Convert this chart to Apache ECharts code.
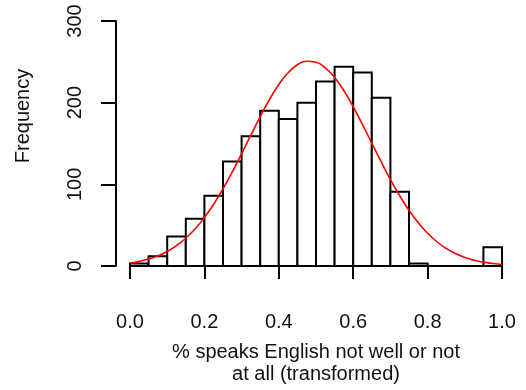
<!DOCTYPE html>
<html>
<head>
<meta charset="utf-8">
<script src="https://cdn.jsdelivr.net/npm/echarts@6/dist/echarts.min.js"></script>
<style>
html,body{margin:0;padding:0;background:#fff;}
#chart{width:526px;height:390px;}
</style>
</head>
<body>
<div id="chart"></div>
<script>
// Histogram bins (edges) and counts
const binEdges = [0.00,0.05,0.10,0.15,0.20,0.25,0.30,0.35,0.40,0.45,0.50,0.55,0.60,0.65,0.70,0.75,0.80,0.85,0.90,0.95,1.00];
const counts   = [3,12,36,58,86,128,159,190,180,200,226,244,237,206,91,3,0,0,0,23];
// Fitted normal curve
const curveX = [0,0.025,0.05,0.075,0.1,0.125,0.15,0.175,0.2,0.225,0.25,0.275,0.3,0.325,0.35,0.375,0.4,0.425,0.45,0.475,0.5,0.525,0.55,0.575,0.6,0.625,0.65,0.675,0.7,0.725,0.75,0.775,0.8,0.825,0.85,0.875,0.9,0.925,0.95,0.975,1.0];
const curveY = [3.7,5.7,8.5,12.4,17.8,24.9,34.0,45.4,59.3,75.8,94.5,115.4,137.6,160.5,183.0,203.9,222.2,236.6,246.4,250.8,249.5,242.7,230.8,214.6,195.0,173.2,150.4,127.7,105.9,86.0,68.2,52.9,40.1,29.7,21.5,15.2,10.5,7.1,4.7,3.1,1.9];
// Axis ticks
const xTicks = [0.0,0.2,0.4,0.6,0.8,1.0];
const yTicks = [0,100,200,300];
const xTitle = '% speaks English not well or not\nat all (transformed)';
const yTitle = 'Frequency';

const barData = counts.map((c,i)=>[binEdges[i], binEdges[i+1], c]);
const lineData = curveX.map((x,i)=>[x, curveY[i]]);

const FONT = '"Liberation Sans", Arial, Helvetica, sans-serif';
const chart = echarts.init(document.getElementById('chart'), null, {renderer:'canvas'});
chart.setOption({
  animation:false,
  backgroundColor:'#fff',
  grid:[
    {left:130, right:24, top:21, bottom:124, containLabel:false},
    {left:116, width:14, top:21, bottom:124, containLabel:false}
  ],
  xAxis:[{
    gridIndex:0, type:'value', min:0, max:1, interval:0.2, offset:12,
    axisLine:{show:true, lineStyle:{color:'#000', width:2}},
    axisTick:{show:true, length:13, inside:false, lineStyle:{color:'#000', width:2}},
    splitLine:{show:false},
    axisLabel:{color:'#111', fontFamily:FONT, fontSize:20, margin:34,
      formatter:v=>xTicks.some(t=>Math.abs(t-v)<1e-9)?v.toFixed(1):''},
    name:xTitle, nameLocation:'middle', nameGap:63,
    nameTextStyle:{color:'#111', fontFamily:FONT, fontSize:20, lineHeight:22}
  },{
    gridIndex:1, type:'value', min:0, max:1, show:false
  }],
  yAxis:[{
    gridIndex:0, type:'value', min:0, max:300, interval:100, show:false
  },{
    gridIndex:1, type:'value', min:0, max:300, interval:100, position:'left',
    axisLine:{show:true, lineStyle:{color:'#000', width:2}},
    axisTick:{show:true, length:15, lineStyle:{color:'#000', width:2}},
    splitLine:{show:false},
    axisLabel:{color:'#111', fontFamily:FONT, fontSize:20, rotate:90, margin:31,
      formatter:v=>yTicks.includes(v)?String(v):''}
  }],
  graphic:[{
    type:'text', x:23, y:116, rotation:Math.PI/2,
    style:{text:yTitle, fill:'#111', font:'20px '+FONT, align:'center', verticalAlign:'middle'}
  }],
  series:[
    {
      type:'custom', xAxisIndex:0, yAxisIndex:0,
      data:barData,
      encode:{x:[0,1], y:2},
      renderItem:function(params, api){
        const p0 = api.coord([api.value(0), api.value(2)]);
        const p1 = api.coord([api.value(1), 0]);
        return {type:'rect', shape:{x:p0[0], y:p0[1], width:p1[0]-p0[0], height:p1[1]-p0[1]},
          style:{fill:'#fff', stroke:'#000', lineWidth:2}};
      },
      z:2
    },
    {
      type:'line', xAxisIndex:0, yAxisIndex:0, data:lineData, smooth:true, showSymbol:false,
      lineStyle:{color:'#ff0000', width:1.6}, z:3
    }
  ]
});
</script>
</body>
</html>
